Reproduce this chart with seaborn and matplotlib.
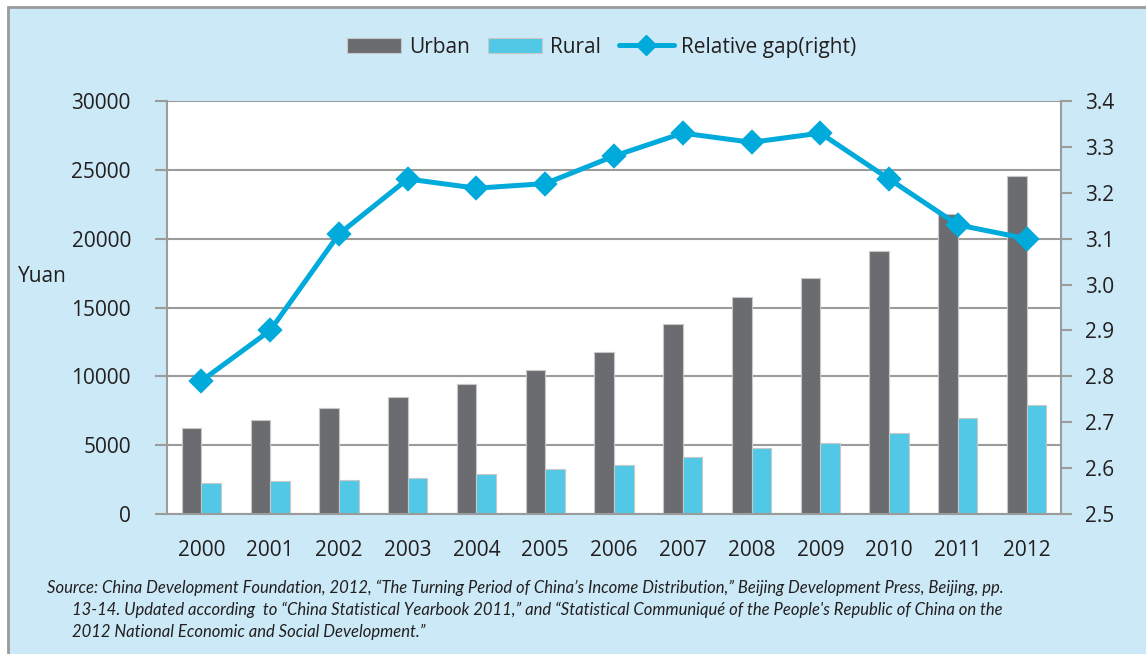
import pandas as pd
import matplotlib.pyplot as plt
import seaborn as sns
from matplotlib.lines import Line2D
from matplotlib.patches import Rectangle

# --- Dados ---
YEARS = ["2000", "2001", "2002", "2003", "2004", "2005", "2006",
         "2007", "2008", "2009", "2010", "2011", "2012"]
URBAN = [6280, 6860, 7703, 8472, 9422, 10493, 11759,
         13786, 15781, 17175, 19109, 21810, 24565]
RURAL = [2253, 2366, 2476, 2622, 2936, 3255, 3587,
         4140, 4761, 5153, 5919, 6977, 7917]
GAP = [2.79, 2.90, 3.11, 3.23, 3.21, 3.22, 3.28,
       3.33, 3.31, 3.33, 3.23, 3.13, 3.10]
LEFT_TICKS = [0, 5000, 10000, 15000, 20000, 25000, 30000]
RIGHT_TICKS = [2.5, 2.6, 2.7, 2.8, 2.9, 3.0, 3.1, 3.2, 3.3, 3.4]

SOURCE = [
    "Source: China Development Foundation, 2012, \u201cThe Turning Period of China\u2019s Income Distribution,\u201d Beijing Development Press, Beijing, pp.",
    "13-14. Updated according  to \u201cChina Statistical Yearbook 2011,\u201d and \u201cStatistical Communiqu\u00e9 of the People's Republic of China on the",
    "2012 National Economic and Social Development.\u201d",
]

# --- Cores ---
BG = "#cbe9f6"
GRAY_LINE = "#9b9b9b"
C_URBAN = "#6b6c70"
C_RURAL = "#50c8e6"
C_GAP = "#00aadb"
TXT = "#231f20"

sns.set_style("white")
plt.rcParams["font.family"] = ["Open Sans", "DejaVu Sans"]
plt.rcParams["text.color"] = TXT
plt.rcParams["xtick.color"] = GRAY_LINE
plt.rcParams["ytick.color"] = GRAY_LINE
plt.rcParams["xtick.labelcolor"] = TXT
plt.rcParams["ytick.labelcolor"] = TXT

df = pd.DataFrame({
    "year": YEARS * 2,
    "value": URBAN + RURAL,
    "series": ["Urban"] * len(YEARS) + ["Rural"] * len(YEARS),
})
df_gap = pd.DataFrame({"year": YEARS, "gap": GAP})

fig = plt.figure(figsize=(11.46, 6.54), dpi=100, facecolor="white")
fig.patches.append(Rectangle((8 / 1146, -0.05), 1.0, 1.05 - 7 / 654,
                             transform=fig.transFigure, facecolor=BG,
                             edgecolor=GRAY_LINE, linewidth=2, zorder=-10))

ax = fig.add_axes([167 / 1146, 1 - 514 / 654, (1061 - 167) / 1146, (514 - 101) / 654])
ax.set_facecolor("white")

sns.barplot(data=df, x="year", y="value", hue="series",
            palette={"Urban": C_URBAN, "Rural": C_RURAL},
            width=0.57, gap=0, edgecolor="#c8c8c8", linewidth=0.8,
            saturation=1, errorbar=None, ax=ax)
leg = ax.get_legend()
bar_handles = leg.legend_handles
bar_labels = [t.get_text() for t in leg.get_texts()]
leg.remove()

ax.set_ylim(0, 30000)
ax.set_yticks(LEFT_TICKS)
ax.set_xlim(-0.5, len(YEARS) - 0.5)
ax.set_xlabel("")
ax.set_ylabel("")
ax.yaxis.grid(True, color=GRAY_LINE, linewidth=1.5)
ax.set_axisbelow(True)

# ticks do eixo x nas fronteiras das categorias
ax.set_xticks(range(len(YEARS)))
ax.set_xticklabels(YEARS)
ax.set_xticks([i - 0.5 for i in range(len(YEARS) + 1)], minor=True)
ax.tick_params(axis="x", which="major", length=0, pad=19, labelsize=15)
ax.tick_params(axis="x", which="minor", length=8, width=1.5, direction="out")
ax.tick_params(axis="y", length=9, width=1.5, pad=17, labelsize=15, left=True)

for side in ["left", "bottom"]:
    ax.spines[side].set_color(GRAY_LINE)
    ax.spines[side].set_linewidth(1.5)
ax.spines["top"].set_visible(False)
ax.spines["right"].set_visible(False)

ax2 = ax.twinx()
sns.pointplot(data=df_gap, x="year", y="gap", color=C_GAP, markers="D",
              markersize=10, linewidth=3.6, errorbar=None, ax=ax2)
ax2.set_ylim(2.5, 3.4)
ax2.set_yticks(RIGHT_TICKS)
ax2.set_yticklabels([f"{v:.1f}" for v in RIGHT_TICKS])
ax2.set_ylabel("")
ax2.grid(False)
ax2.tick_params(axis="y", length=8, width=1.5, pad=9, labelsize=15, right=True)
for side in ["top", "left", "bottom"]:
    ax2.spines[side].set_visible(False)
ax2.spines["right"].set_color(GRAY_LINE)
ax2.spines["right"].set_linewidth(1.5)

# --- Legenda ---
gap_handle = Line2D([], [], color=C_GAP, linewidth=3.6, marker="D", markersize=10)
fig.legend(bar_handles + [gap_handle], bar_labels + ["Relative gap(right)"],
           loc="center", bbox_to_anchor=(0.525, 0.928), ncol=3, frameon=False,
           fontsize=15, handlelength=2.6, handleheight=0.75, handletextpad=0.35,
           columnspacing=0.9)

fig.text(18 / 1146, 1 - 277 / 654, "Yuan", ha="left", va="center", fontsize=15)

src_kw = dict(fontsize=12, style="italic", family=["Lato", "DejaVu Sans"],
              ha="left", va="center")
fig.text(47 / 1146, 1 - 588 / 654, SOURCE[0], **src_kw)
fig.text(72 / 1146, 1 - 610 / 654, SOURCE[1], **src_kw)
fig.text(72 / 1146, 1 - 632 / 654, SOURCE[2], **src_kw)

fig.savefig("out.png", dpi=100, facecolor="white")
